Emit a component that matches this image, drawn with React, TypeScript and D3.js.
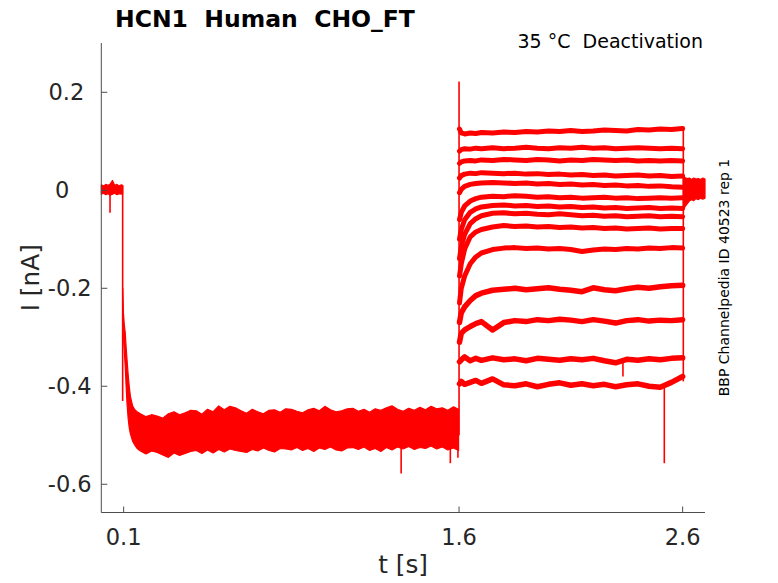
import * as d3 from 'd3'

// holding at 0 mV-ish before the step (t < 0.1 s)
const preT = [0, 0.01, 0.02, 0.03, 0.04, 0.05, 0.06, 0.07, 0.08, 0.09, 0.0955]
const preHi = [0.011, 0.009, 0.012, 0.010, 0.013, 0.020, 0.010, 0.012, 0.009, 0.011, 0.010]
const preLo = [-0.008, -0.006, -0.009, -0.007, -0.010, -0.008, -0.006, -0.009, -0.007, -0.008, -0.006]

// activating step, all sweeps overlap -> envelope of the band
const holdT = [
  0.096, 0.099, 0.103, 0.107, 0.111, 0.115, 0.12, 0.125, 0.13, 0.14, 0.15, 0.16, 0.175,
  0.2, 0.225, 0.25, 0.275, 0.3, 0.325, 0.35, 0.375, 0.4, 0.425, 0.45, 0.475, 0.5, 0.525,
  0.55, 0.575, 0.6, 0.625, 0.65, 0.675, 0.7, 0.725, 0.75, 0.775, 0.8, 0.825, 0.85, 0.875,
  0.9, 0.925, 0.95, 0.975, 1.0, 1.025, 1.05, 1.075, 1.1, 1.125, 1.15, 1.175, 1.2, 1.225,
  1.25, 1.275, 1.3, 1.325, 1.35, 1.375, 1.4, 1.425, 1.45, 1.475, 1.5, 1.525, 1.55, 1.575,
  1.598,
]
const holdHi = [
  -0.20, -0.25, -0.275, -0.29, -0.32, -0.345, -0.375, -0.40, -0.42, -0.44, -0.448, -0.452, -0.456,
  -0.462, -0.458, -0.461, -0.465, -0.456, -0.452, -0.458, -0.454, -0.449, -0.450, -0.457, -0.447, -0.452, -0.440,
  -0.448, -0.441, -0.444, -0.450, -0.455, -0.447, -0.452, -0.456, -0.449, -0.448, -0.453, -0.446, -0.447, -0.451,
  -0.454, -0.448, -0.445, -0.450, -0.441, -0.448, -0.452, -0.450, -0.446, -0.445, -0.451, -0.447, -0.453, -0.446,
  -0.449, -0.444, -0.440, -0.447, -0.451, -0.445, -0.449, -0.443, -0.448, -0.441, -0.446, -0.444, -0.449, -0.442,
  -0.447,
]
const holdLo = [
  -0.26, -0.30, -0.33, -0.36, -0.40, -0.435, -0.465, -0.485, -0.497, -0.512, -0.52, -0.527, -0.532,
  -0.538, -0.532, -0.535, -0.540, -0.545, -0.536, -0.541, -0.537, -0.533, -0.531, -0.537, -0.530, -0.536, -0.529,
  -0.534, -0.528, -0.531, -0.533, -0.535, -0.529, -0.532, -0.526, -0.531, -0.534, -0.527, -0.528, -0.530, -0.525,
  -0.531, -0.527, -0.533, -0.526, -0.529, -0.524, -0.530, -0.532, -0.526, -0.525, -0.529, -0.524, -0.531, -0.527,
  -0.533, -0.525, -0.530, -0.524, -0.528, -0.523, -0.529, -0.525, -0.527, -0.522, -0.528, -0.524, -0.530, -0.526,
  -0.531,
]

// deactivation tails, one array per sweep
const postT = [
  1.602, 1.61, 1.625, 1.65, 1.675, 1.7, 1.75, 1.8, 1.85, 1.9, 1.95, 2.0,
  2.05, 2.1, 2.15, 2.2, 2.25, 2.3, 2.35, 2.4, 2.45, 2.5, 2.55, 2.6,
]
const sweep01 = [0.125, 0.117, 0.115, 0.117, 0.116, 0.118, 0.117, 0.119, 0.118, 0.120, 0.119, 0.121, 0.120, 0.122, 0.120, 0.121, 0.123, 0.122, 0.121, 0.124, 0.123, 0.125, 0.124, 0.126]
const sweep02 = [0.080, 0.083, 0.085, 0.084, 0.086, 0.085, 0.087, 0.085, 0.086, 0.088, 0.086, 0.085, 0.087, 0.086, 0.088, 0.086, 0.087, 0.085, 0.086, 0.087, 0.086, 0.085, 0.086, 0.085]
const sweep03 = [0.055, 0.058, 0.060, 0.061, 0.060, 0.062, 0.061, 0.063, 0.062, 0.061, 0.063, 0.062, 0.060, 0.062, 0.061, 0.063, 0.062, 0.061, 0.062, 0.060, 0.061, 0.060, 0.061, 0.060]
const sweep04 = [0.025, 0.030, 0.033, 0.035, 0.034, 0.036, 0.035, 0.034, 0.035, 0.033, 0.034, 0.032, 0.033, 0.031, 0.032, 0.030, 0.031, 0.029, 0.030, 0.031, 0.029, 0.030, 0.028, 0.029]
const sweep05 = [-0.005, 0.002, 0.008, 0.012, 0.014, 0.015, 0.016, 0.015, 0.014, 0.015, 0.013, 0.014, 0.012, 0.013, 0.011, 0.012, 0.010, 0.011, 0.009, 0.010, 0.008, 0.009, 0.007, 0.006]
const sweep06 = [-0.060, -0.045, -0.032, -0.022, -0.017, -0.014, -0.012, -0.013, -0.011, -0.012, -0.014, -0.013, -0.015, -0.014, -0.016, -0.015, -0.014, -0.016, -0.015, -0.017, -0.016, -0.015, -0.016, -0.015]
const sweep07 = [-0.100, -0.080, -0.060, -0.045, -0.038, -0.034, -0.031, -0.030, -0.032, -0.031, -0.033, -0.032, -0.034, -0.033, -0.035, -0.034, -0.036, -0.035, -0.037, -0.036, -0.035, -0.037, -0.036, -0.037]
const sweep08 = [-0.140, -0.115, -0.090, -0.068, -0.058, -0.052, -0.047, -0.046, -0.048, -0.047, -0.049, -0.050, -0.048, -0.050, -0.052, -0.051, -0.053, -0.052, -0.054, -0.053, -0.052, -0.054, -0.053, -0.054]
const sweep09 = [-0.175, -0.150, -0.120, -0.095, -0.085, -0.080, -0.075, -0.072, -0.074, -0.073, -0.075, -0.074, -0.076, -0.075, -0.077, -0.076, -0.078, -0.077, -0.079, -0.078, -0.077, -0.079, -0.078, -0.078]
const sweep10 = [-0.230, -0.200, -0.175, -0.150, -0.136, -0.128, -0.121, -0.118, -0.117, -0.119, -0.118, -0.120, -0.119, -0.121, -0.125, -0.122, -0.120, -0.121, -0.119, -0.120, -0.118, -0.119, -0.117, -0.118]
const sweep11 = [-0.270, -0.250, -0.238, -0.225, -0.215, -0.210, -0.204, -0.202, -0.200, -0.203, -0.201, -0.199, -0.202, -0.204, -0.207, -0.199, -0.203, -0.205, -0.201, -0.198, -0.200, -0.197, -0.195, -0.194]
const sweep12 = [-0.310, -0.292, -0.285, -0.278, -0.272, -0.268, -0.285, -0.270, -0.266, -0.268, -0.264, -0.266, -0.263, -0.265, -0.268, -0.264, -0.267, -0.271, -0.266, -0.264, -0.267, -0.265, -0.266, -0.264]
const sweep13 = [-0.350, -0.346, -0.340, -0.348, -0.343, -0.347, -0.342, -0.346, -0.344, -0.348, -0.343, -0.345, -0.347, -0.344, -0.346, -0.343, -0.348, -0.352, -0.345, -0.347, -0.344, -0.346, -0.343, -0.342]
const sweep14 = [-0.395, -0.390, -0.396, -0.392, -0.388, -0.394, -0.385, -0.397, -0.399, -0.395, -0.401, -0.396, -0.393, -0.398, -0.395, -0.399, -0.396, -0.401, -0.397, -0.395, -0.400, -0.402, -0.392, -0.380]
const sweeps = [sweep01, sweep02, sweep03, sweep04, sweep05, sweep06, sweep07, sweep08, sweep09, sweep10, sweep11, sweep12, sweep13, sweep14]

// back to holding after 2.6 s
const tailT = [2.603, 2.61, 2.62, 2.63, 2.64, 2.65, 2.66, 2.67, 2.68, 2.69, 2.7]
const tailHi = [0.030, 0.026, 0.024, 0.025, 0.022, 0.025, 0.023, 0.024, 0.022, 0.025, 0.023]
const tailLo = [-0.040, -0.034, -0.028, -0.022, -0.019, -0.021, -0.017, -0.019, -0.016, -0.018, -0.016]

// steps and single-sample glitches (vertical strokes)
const spikeT = [0.039, 0.0955, 1.341, 1.561, 1.595, 1.6, 2.333, 2.518, 2.603]
const spikeLo = [-0.046, -0.43, -0.578, -0.557, -0.546, -0.50, -0.38, -0.557, -0.39]
const spikeHi = [0.0, 0.01, -0.52, -0.52, -0.52, 0.222, -0.345, -0.40, 0.127]

const xTicks = [0.1, 1.6, 2.6]
const xTickLabels = ['0.1', '1.6', '2.6']
const yTicks = [-0.6, -0.4, -0.2, 0, 0.2]
const yTickLabels = ['-0.6', '-0.4', '-0.2', '0', '0.2']

const W = 778
const H = 583
const FONT = '"DejaVu Sans", sans-serif'
const INK = '#262626'
const RED = '#ff0000'

export default function App() {
  const x = d3.scaleLinear().domain([0, 2.7]).range([101.3, 705])
  const y = d3.scaleLinear().domain([-0.6576, 0.3006]).range([512.5, 43])
  const [x0, x1] = x.range()
  const [yBottom, yTop] = y.range()

  const band = (ts: number[], lo: number[]) =>
    d3.area<number>()
      .x((_, i) => x(ts[i]))
      .y0((_, i) => y(lo[i]))
      .y1(d => y(d))

  const trace = d3.line<number>()
    .x((_, i) => x(postT[i]))
    .y(d => y(d))

  const bands = [
    band(preT, preLo)(preHi),
    band(holdT, holdLo)(holdHi),
    band(tailT, tailLo)(tailHi),
  ]

  return (
    <svg width={W} height={H} style={{ position: 'absolute', left: 0, top: 0, background: '#fff' }}>
      <text x={115} y={26.7} fontFamily={FONT} fontWeight="bold" fontSize={23.5} fill="#000" style={{ whiteSpace: 'pre' }}>
        {'HCN1  Human  CHO_FT'}
      </text>
      <text x={703} y={48.3} textAnchor="end" fontFamily={FONT} fontSize={19} fill="#000" style={{ whiteSpace: 'pre' }}>
        {'35 °C  Deactivation'}
      </text>

      <g>
        {bands.map((d, i) => (
          <path key={i} d={d ?? ''} fill={RED} stroke={RED} strokeWidth={1.2} strokeLinejoin="round" />
        ))}
        {sweeps.map((s, i) => (
          <path key={i} d={trace(s) ?? ''} fill="none" stroke={RED} strokeWidth={i > 9 ? 5.5 : 5} strokeLinejoin="round" strokeLinecap="round" />
        ))}
        {spikeT.map((t, i) => (
          <line key={i} x1={x(t)} x2={x(t)} y1={y(spikeLo[i])} y2={y(spikeHi[i])} stroke={RED} strokeWidth={1.6} />
        ))}
      </g>

      <g stroke="#4d4d4d" strokeWidth={1} fill="none">
        <line x1={x0} x2={x0} y1={yTop} y2={yBottom} />
        <line x1={x0} x2={x1} y1={yBottom} y2={yBottom} />
        {xTicks.map(t => (
          <line key={t} x1={x(t)} x2={x(t)} y1={yBottom} y2={yBottom - 6} />
        ))}
        {yTicks.map(t => (
          <line key={t} x1={x0} x2={x0 + 6} y1={y(t)} y2={y(t)} />
        ))}
      </g>

      <g fontFamily={FONT} fontSize={22.5} fill={INK}>
        {xTicks.map((t, i) => (
          <text key={t} x={x(t)} y={544.5} textAnchor="middle">{xTickLabels[i]}</text>
        ))}
        {yTicks.map((t, i) => (
          <text key={t} x={91.7 - (t < 0 ? 0 : 7.4) - (t === 0 ? 15 : 0)} y={y(t) + 8} textAnchor="end">
            {yTickLabels[i]}
          </text>
        ))}
      </g>

      <text x={(x0 + x1) / 2} y={573} textAnchor="middle" fontFamily={FONT} fontSize={24.75} fill={INK}>t [s]</text>
      <text transform={`translate(39.3,${(yTop + yBottom) / 2}) rotate(-90)`} textAnchor="middle" fontFamily={FONT} fontSize={24.75} fill={INK}>I [nA]</text>

      <text transform={`translate(729.3,277.5) rotate(-90)`} textAnchor="middle" fontFamily={FONT} fontSize={14} fill="#000">
        BBP Channelpedia ID 40523 rep 1
      </text>
    </svg>
  )
}
